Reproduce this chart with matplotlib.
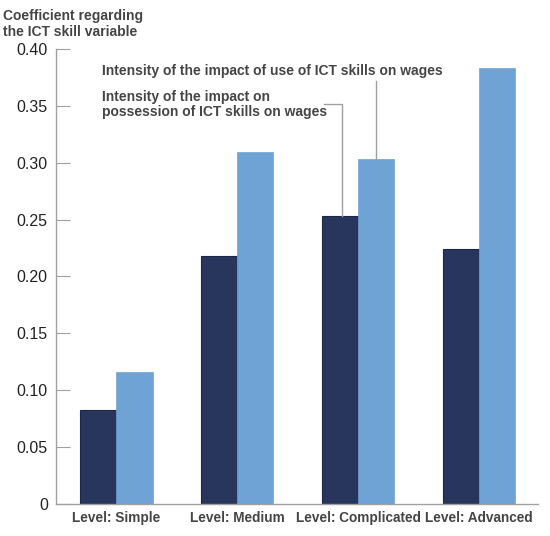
import numpy as np
import matplotlib
matplotlib.use('Agg')
import matplotlib.pyplot as plt

plt.rcParams['font.family'] = ['Liberation Sans', 'DejaVu Sans']

levels = ['Level: Simple', 'Level: Medium', 'Level: Complicated', 'Level: Advanced']
possession = [0.083, 0.218, 0.253, 0.224]
use = [0.116, 0.309, 0.303, 0.383]
yticks = [0, 0.05, 0.10, 0.15, 0.20, 0.25, 0.30, 0.35, 0.40]
ytick_labels = ['0', '0.05', '0.10', '0.15', '0.20', '0.25', '0.30', '0.35', '0.40']

dark = '#28365e'
light = '#6fa3d6'
grey_txt = '#454545'
axis_col = '#a0a0a0'

fig = plt.figure(figsize=(5.5, 5.36), dpi=100)
ax = fig.add_axes([0.102, 0.0597, 0.876, 0.849])

x = np.arange(len(levels))
w = 0.3
ax.bar(x - w / 2, possession, w, color=dark, edgecolor='#1c2747', linewidth=0.8)
ax.bar(x + w / 2, use, w, color=light, edgecolor=light, linewidth=0.5)

ax.set_xlim(-0.5, 3.49)
ax.set_ylim(0, 0.40)
ax.set_yticks(yticks)
ax.set_yticklabels(ytick_labels, fontsize=11.5, color='#222222')
ax.set_xticks(x)
ax.set_xticklabels(levels, fontsize=9.8, fontweight='bold', color=grey_txt)
ax.tick_params(axis='y', direction='in', length=10, color=axis_col, pad=6)
ax.tick_params(axis='x', length=0, pad=5)
for s in ['top', 'right']:
    ax.spines[s].set_visible(False)
for s in ['left', 'bottom']:
    ax.spines[s].set_color(axis_col)
    ax.spines[s].set_linewidth(1)

fig.text(0.006, 0.983, 'Coefficient regarding\nthe ICT skill variable', ha='left', va='top',
         fontsize=10, fontweight='bold', color=grey_txt, linespacing=1.15)

# callouts
ax.text(-0.116, 0.3807, 'Intensity of the impact of use of ICT skills on wages',
        fontsize=10, fontweight='bold', color=grey_txt, va='center', ha='left')
ax.plot([2 + w / 2, 2 + w / 2], [use[2], 0.372], color=axis_col, lw=1)

ax.text(-0.116, 0.3512, 'Intensity of the impact on\npossession of ICT skills on wages',
        fontsize=10, fontweight='bold', color=grey_txt, va='center', ha='left', linespacing=1.15)
ax.plot([1.719, 1.865, 1.865], [0.3517, 0.3517, possession[2]],
        color=axis_col, lw=1)

fig.savefig('out.png', dpi=100)
